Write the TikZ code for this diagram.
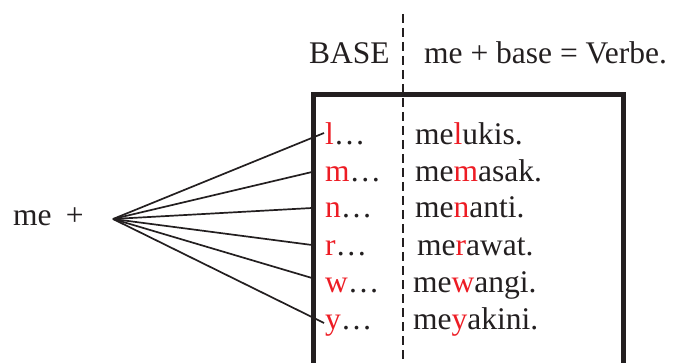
\documentclass[tikz,border=0pt]{standalone}
\usepackage{fontspec}
\setmainfont{Liberation Serif}
\definecolor{lred}{RGB}{237,28,36}
\definecolor{ink}{RGB}{35,31,32}
\begin{document}
\begin{tikzpicture}[x=1pt,y=-1pt,
  txt/.style={inner sep=0pt,anchor=base west,font=\fontsize{31.5}{37}\selectfont,text=ink},
  fan/.style={line width=1.7pt,draw=ink},
  frame/.style={line width=5pt,draw=ink},
  sep/.style={line width=1.8pt,draw=ink,dash pattern=on 9pt off 5pt}]
\useasboundingbox (0,0) rectangle (674,363);
% frame
\draw[frame] (313,366) -- (313,95) -- (623,95) -- (623,366);
% dashed separator
\draw[sep] (403,14) -- (403,366);
% headers
\node[txt] (base) at (309,64) {BASE};
\node[txt] (rule) at (424,64) {me + base = Verbe.};
% me +
\node[txt] (me) at (13,226) {me\hspace{0.45em}+};
\coordinate (hub) at (113,219);
% letters
\node[txt] (l) at (325,145) {\textcolor{lred}{l}…};
\node[txt] (m) at (325,182) {\textcolor{lred}{m}…};
\node[txt] (n) at (325,218) {\textcolor{lred}{n}…};
\node[txt] (r) at (325,255) {\textcolor{lred}{r}…};
\node[txt] (w) at (325,292) {\textcolor{lred}{w}…};
\node[txt] (y) at (325,329) {\textcolor{lred}{y}…};
% words
\node[txt] (wl) at (415,145) {me\textcolor{lred}{l}ukis.};
\node[txt] (wm) at (415,182) {me\textcolor{lred}{m}asak.};
\node[txt] (wn) at (415,218) {me\textcolor{lred}{n}anti.};
\node[txt] (wr) at (417,255) {me\textcolor{lred}{r}awat.};
\node[txt] (ww) at (413,292) {me\textcolor{lred}{w}angi.};
\node[txt] (wy) at (413,329) {me\textcolor{lred}{y}akini.};
% fan end points
\coordinate (el) at (324,133);
\coordinate (em) at (312,172);
\coordinate (en) at (312,208);
\coordinate (er) at (312,245);
\coordinate (ew) at (312,278);
\coordinate (ey) at (324,323);
\foreach \e in {el,em,en,er,ew,ey} \draw[fan] (hub) -- (\e);
\end{tikzpicture}
\end{document}
